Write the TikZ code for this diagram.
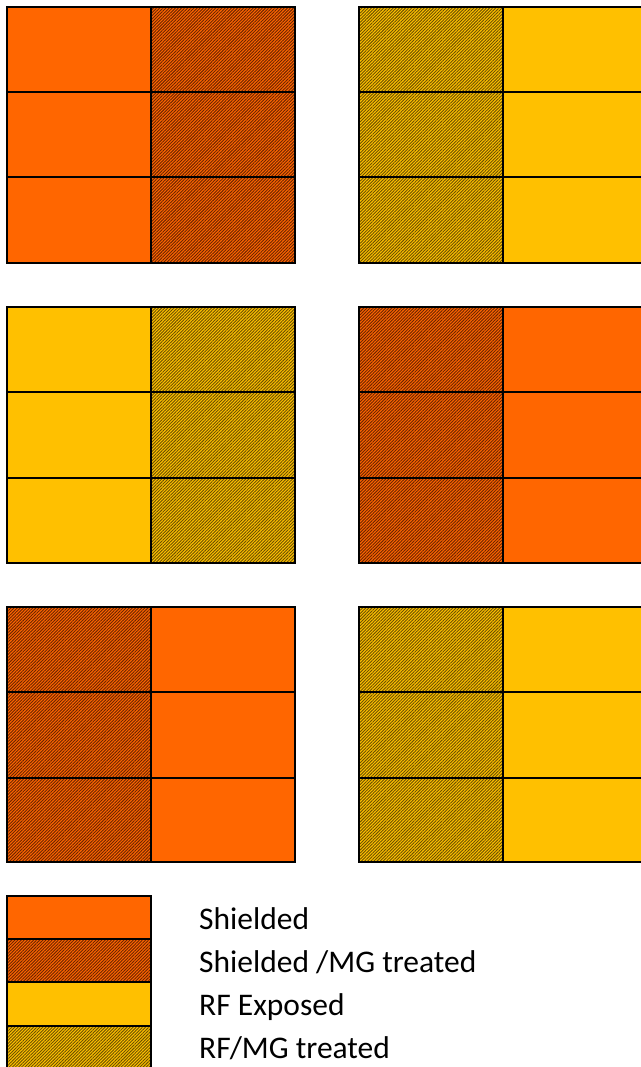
\documentclass[tikz,border=0pt]{standalone}
\usepackage{fontspec}
\setmainfont{Carlito}
\usetikzlibrary{patterns.meta}
\definecolor{orng}{HTML}{FF6600}
\definecolor{yllw}{HTML}{FFC000}
\definecolor{orngdark}{HTML}{6A2400}
\definecolor{yllwdark}{HTML}{6A5000}
\tikzset{
  cell/.style={draw=black, line width=1.6pt},
  orplain/.style={cell, fill=orng},
  yeplain/.style={cell, fill=yllw},
  orhatch/.style={cell, preaction={fill=orng}, pattern={Lines[angle=45,distance=2.2pt,line width=0.9pt]}, pattern color=orngdark},
  yehatch/.style={cell, preaction={fill=yllw}, pattern={Lines[angle=45,distance=2.2pt,line width=0.9pt]}, pattern color=yllwdark},
  legtext/.style={anchor=base west, inner sep=0pt, font=\fontsize{31.5}{36}\selectfont}
}
\begin{document}
\begin{tikzpicture}[x=1pt,y=-1pt]
\useasboundingbox (0,0) rectangle (640,1067);
% Block 1
\foreach \ya/\yb in {7/92,92/177,177/263} {
  \path[orplain] (7,\ya) rectangle (151,\yb);
  \path[orhatch] (151,\ya) rectangle (295,\yb);
  \path[yehatch] (359,\ya) rectangle (503,\yb);
  \path[yeplain] (503,\ya) rectangle (647,\yb);
}
% Block 2
\foreach \ya/\yb in {307/392,392/478,478/563} {
  \path[yeplain] (7,\ya) rectangle (151,\yb);
  \path[yehatch] (151,\ya) rectangle (295,\yb);
  \path[orhatch] (359,\ya) rectangle (503,\yb);
  \path[orplain] (503,\ya) rectangle (647,\yb);
}
% Block 3
\foreach \ya/\yb in {607/692,692/778,778/862} {
  \path[orhatch] (7,\ya) rectangle (151,\yb);
  \path[orplain] (151,\ya) rectangle (295,\yb);
  \path[yehatch] (359,\ya) rectangle (503,\yb);
  \path[yeplain] (503,\ya) rectangle (647,\yb);
}
% Legend
\path[orplain] (7,896) rectangle (151,939);
\path[orhatch] (7,939) rectangle (151,982);
\path[yeplain] (7,982) rectangle (151,1026);
\path[yehatch] (7,1026) rectangle (151,1075);
\node[legtext] (l1) at (199,929) {Shielded};
\node[legtext] (l2) at (199,972) {Shielded /MG treated};
\node[legtext] (l3) at (199,1015) {RF Exposed};
\node[legtext] (l4) at (199,1058) {RF/MG treated};
\end{tikzpicture}
\end{document}
